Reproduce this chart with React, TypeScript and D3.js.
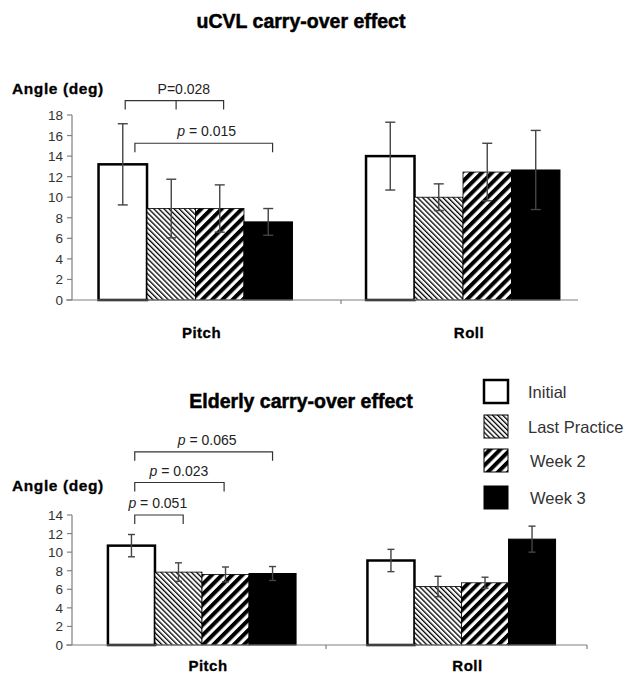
import { useEffect, useRef } from 'react';
import * as d3 from 'd3';

// Data
const categories = ["Pitch", "Roll"];
const series = ["Initial", "Last Practice", "Week 2", "Week 3"];

const ucvlMeans = [[13.2, 8.9, 8.9, 7.6], [14.0, 10.0, 12.45, 12.65]];
const ucvlErrs = [[3.95, 2.85, 2.3, 1.3], [3.3, 1.3, 2.8, 3.85]];
const ucvlTicks = [0, 2, 4, 6, 8, 10, 12, 14, 16, 18];

const elderlyMeans = [[10.7, 7.85, 7.6, 7.7], [9.1, 6.3, 6.7, 11.4]];
const elderlyErrs = [[1.2, 1.0, 0.8, 0.75], [1.2, 1.1, 0.6, 1.4]];
const elderlyTicks = [0, 2, 4, 6, 8, 10, 12, 14];

// significance brackets: bar positions (index units inside the Pitch group) and level in degrees
const ucvlBrackets = [
  { label: "P=0.028", italicP: false, from: 0.05, to: 2.08, mids: [1.1], level: 19.4, at: 1.26 },
  { label: "= 0.015", italicP: true, from: 0.25, to: 3.09, mids: [], level: 15.25, at: 1.73 },
];
const elderlyBrackets = [
  { label: "= 0.065", italicP: true, from: 0.07, to: 3.0, mids: [], level: 20.8, at: 1.61 },
  { label: "= 0.023", italicP: true, from: 0.07, to: 1.97, mids: [], level: 17.5, at: 1.01 },
  { label: "= 0.051", italicP: true, from: 0.07, to: 1.1, mids: [], level: 14.0, at: 0.56 },
];

const W = 628, H = 673;
const FONT = "'Liberation Sans', Arial, sans-serif";

function App() {
  const ref = useRef(null);

  const draw = () => {
    const svg = d3.select(ref.current);
    svg.selectAll("*").remove();

    const defs = svg.append("defs");
    const fine = defs.append("pattern").attr("id", "fine")
      .attr("patternUnits", "userSpaceOnUse").attr("width", 3.6).attr("height", 10)
      .attr("patternTransform", "rotate(-45)");
    fine.append("rect").attr("width", 3.6).attr("height", 10).attr("fill", "#fff");
    fine.append("rect").attr("width", 1.3).attr("height", 10).attr("fill", "#000");
    const bold = defs.append("pattern").attr("id", "bold")
      .attr("patternUnits", "userSpaceOnUse").attr("width", 7.2).attr("height", 10)
      .attr("patternTransform", "rotate(45)");
    bold.append("rect").attr("width", 7.2).attr("height", 10).attr("fill", "#fff");
    bold.append("rect").attr("width", 4).attr("height", 10).attr("fill", "#000");

    const fills = ["#fff", "url(#fine)", "url(#bold)", "#000"];
    const strokeW = [2.5, 0.8, 0.8, 1];

    const panels = [
      {
        title: "uCVL carry-over effect", means: ucvlMeans, errs: ucvlErrs, ticks: ucvlTicks, brackets: ucvlBrackets,
        titleY: 28, angleY: 94, y0: 300, y1: 115, band: [61.75, 596.75], axisEnd: 578, sep: [341], labelY: 338, labelDx: 6, cap: 10,
      },
      {
        title: "Elderly carry-over effect", means: elderlyMeans, errs: elderlyErrs, ticks: elderlyTicks, brackets: elderlyBrackets,
        titleY: 408, angleY: 491, y0: 645, y1: 515, band: [72.25, 591.25], axisEnd: 587, sep: [326, 587], labelY: 671, labelDx: 6, cap: 7,
      },
    ];

    panels.forEach(p => {
      const g = svg.append("g");
      const yMax = p.ticks[p.ticks.length - 1];
      const y = d3.scaleLinear().domain([0, yMax]).range([p.y0, p.y1]);
      const x = d3.scaleBand().domain(categories).range(p.band).paddingInner(0.275).paddingOuter(0.1375);
      const xs = d3.scaleBand().domain(series).range([0, x.bandwidth()]);
      const bw = xs.bandwidth();
      const pos = (i) => x(categories[0]) + (i + 0.5) * bw;

      g.append("text").attr("x", 301).attr("y", p.titleY).attr("text-anchor", "middle")
        .attr("font-family", FONT).attr("font-weight", "bold").attr("font-size", 19.5)
        .attr("stroke", "#000").attr("stroke-width", 0.5).text(p.title);
      g.append("text").attr("x", 12).attr("y", p.angleY)
        .attr("font-family", FONT).attr("font-weight", "bold").attr("font-size", 15.5)
        .attr("letter-spacing", 0.6).attr("stroke", "#000").attr("stroke-width", 0.3).text("Angle (deg)");

      // bars
      categories.forEach((c, ci) => {
        series.forEach((s, si) => {
          g.append("rect")
            .attr("x", x(c) + xs(s)).attr("y", y(p.means[ci][si]))
            .attr("width", bw).attr("height", p.y0 - y(p.means[ci][si]))
            .attr("fill", fills[si]).attr("stroke", "#000").attr("stroke-width", strokeW[si]);
        });
      });

      // error bars
      categories.forEach((c, ci) => {
        series.forEach((s, si) => {
          const cx = x(c) + xs(s) + bw / 2;
          const m = p.means[ci][si], e = p.errs[ci][si];
          const eg = g.append("g").attr("stroke", "#444").attr("stroke-width", 1.4);
          eg.append("line").attr("x1", cx).attr("x2", cx).attr("y1", y(m + e)).attr("y2", y(m - e));
          [m + e, m - e].forEach(v => {
            eg.append("line").attr("x1", cx - p.cap / 2).attr("x2", cx + p.cap / 2).attr("y1", y(v)).attr("y2", y(v));
          });
        });
      });

      // axes
      const ax = g.append("g").attr("stroke", "#808080").attr("stroke-width", 1.2);
      ax.append("line").attr("x1", 72).attr("x2", 72).attr("y1", p.y0).attr("y2", y(yMax));
      ax.append("line").attr("x1", 66).attr("x2", p.axisEnd).attr("y1", p.y0).attr("y2", p.y0);
      p.ticks.forEach(t => {
        ax.append("line").attr("x1", 67).attr("x2", 72).attr("y1", y(t)).attr("y2", y(t));
      });
      p.sep.forEach(sx => {
        ax.append("line").attr("x1", sx).attr("x2", sx).attr("y1", p.y0).attr("y2", p.y0 + 4);
      });
      p.ticks.forEach(t => {
        g.append("text").attr("x", 63).attr("y", y(t) + 5).attr("text-anchor", "end")
          .attr("font-family", FONT).attr("font-size", 13.5).attr("fill", "#333").text(t);
      });
      categories.forEach(c => {
        g.append("text").attr("x", x(c) + x.bandwidth() / 2 + p.labelDx).attr("y", p.labelY)
          .attr("text-anchor", "middle").attr("font-family", FONT).attr("font-weight", "bold")
          .attr("font-size", 15).attr("letter-spacing", 0.5).attr("stroke", "#000").attr("stroke-width", 0.3).text(c);
      });

      // significance brackets
      p.brackets.forEach(b => {
        const ly = y(b.level);
        const bg = g.append("g").attr("stroke", "#333").attr("stroke-width", 1.2).attr("fill", "none");
        const drop = 9;
        bg.append("path").attr("d", `M${pos(b.from)},${ly + drop}V${ly}H${pos(b.to)}V${ly + drop}`);
        b.mids.forEach(mi => {
          bg.append("line").attr("x1", pos(mi)).attr("x2", pos(mi)).attr("y1", ly).attr("y2", ly + drop);
        });
        const t = g.append("text").attr("x", pos(b.at)).attr("y", ly - 7).attr("text-anchor", "middle")
          .attr("font-family", FONT).attr("font-size", 14).attr("fill", "#222");
        if (b.italicP) {
          t.append("tspan").attr("font-style", "italic").text("p");
          t.append("tspan").text(" " + b.label);
        } else {
          t.text(b.label);
        }
      });
    });

    // legend
    const lg = svg.append("g");
    const legY = [380, 415, 449, 486];
    series.forEach((s, si) => {
      lg.append("rect").attr("x", 484).attr("y", legY[si]).attr("width", 24).attr("height", 23)
        .attr("fill", fills[si]).attr("stroke", "#000").attr("stroke-width", si === 0 ? 2.5 : 1);
      lg.append("text").attr("x", si < 2 ? 528 : 530).attr("y", legY[si] + 18)
        .attr("font-family", FONT).attr("font-size", 16.5).attr("fill", "#333").text(s);
    });
  };

  useEffect(() => draw(), []);

  return (
    <svg ref={ref} width={W} height={H} style={{ position: "absolute", left: 0, top: 0, background: "#fff" }} />
  );
}

export default App;
